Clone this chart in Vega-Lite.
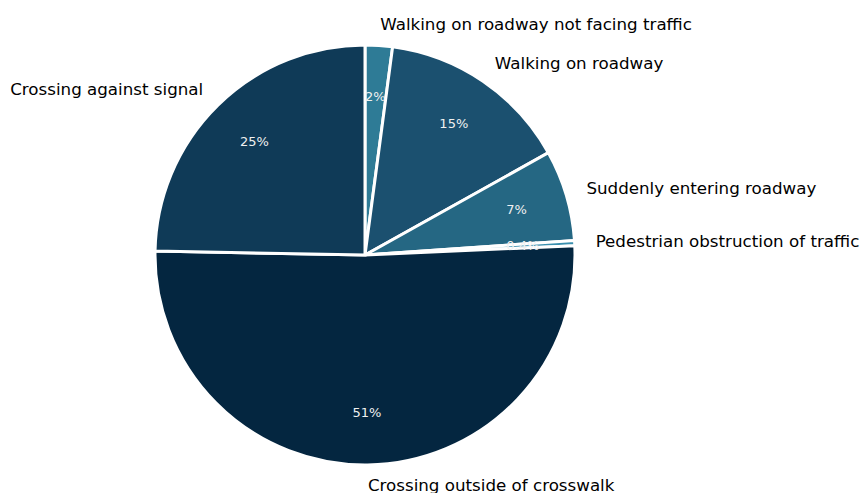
{
  "$schema": "https://vega.github.io/schema/vega-lite/v6.json",
  "autosize": {"type": "none"},
  "width": 730,
  "height": 476,
  "padding": {"left": 0, "top": 17, "right": 132, "bottom": 0},
  "background": "white",
  "view": {"stroke": null},
  "config": {"font": "DejaVu Sans"},
  "data": {
    "values": [
      {"rank": 1, "cause": "Walking on roadway not facing traffic", "value": 2.1, "pct": "2%"},
      {"rank": 2, "cause": "Walking on roadway", "value": 14.8, "pct": "15%"},
      {"rank": 3, "cause": "Suddenly entering roadway", "value": 7.0, "pct": "7%"},
      {"rank": 4, "cause": "Pedestrian obstruction of traffic", "value": 0.4, "pct": "0.4%"},
      {"rank": 5, "cause": "Crossing outside of crosswalk", "value": 51.0, "pct": "51%"},
      {"rank": 6, "cause": "Crossing against signal", "value": 24.7, "pct": "25%"}
    ]
  },
  "encoding": {
    "theta": {"field": "value", "type": "quantitative", "stack": true},
    "order": {"field": "rank", "type": "quantitative", "sort": "ascending"}
  },
  "layer": [
    {
      "mark": {"type": "arc", "outerRadius": 210, "stroke": "white", "strokeWidth": 3},
      "encoding": {
        "color": {
          "field": "cause",
          "type": "nominal",
          "scale": {
            "domain": ["Walking on roadway not facing traffic", "Walking on roadway", "Suddenly entering roadway", "Pedestrian obstruction of traffic", "Crossing outside of crosswalk", "Crossing against signal"],
            "range": ["#2e7b96", "#1b506f", "#256783", "#3a8fae", "#042640", "#0f3a57"]
          },
          "legend": null
        }
      }
    },
    {
      "mark": {"type": "text", "radius": 158, "fontSize": 13, "fill": "#f0f0f0", "baseline": "middle", "align": "center"},
      "encoding": {
        "text": {"field": "pct", "type": "nominal"}
      }
    },
    {
      "mark": {"type": "text", "radius": 231, "fontSize": 16.7, "fill": "black", "baseline": "middle", "align": "left"},
      "encoding": {
        "text": {
          "condition": {"test": "datum.cause !== 'Crossing against signal'", "field": "cause"},
          "value": ""
        }
      }
    },
    {
      "mark": {"type": "text", "radius": 231, "fontSize": 16.7, "fill": "black", "baseline": "middle", "align": "right"},
      "encoding": {
        "text": {
          "condition": {"test": "datum.cause === 'Crossing against signal'", "field": "cause"},
          "value": ""
        }
      }
    }
  ]
}
